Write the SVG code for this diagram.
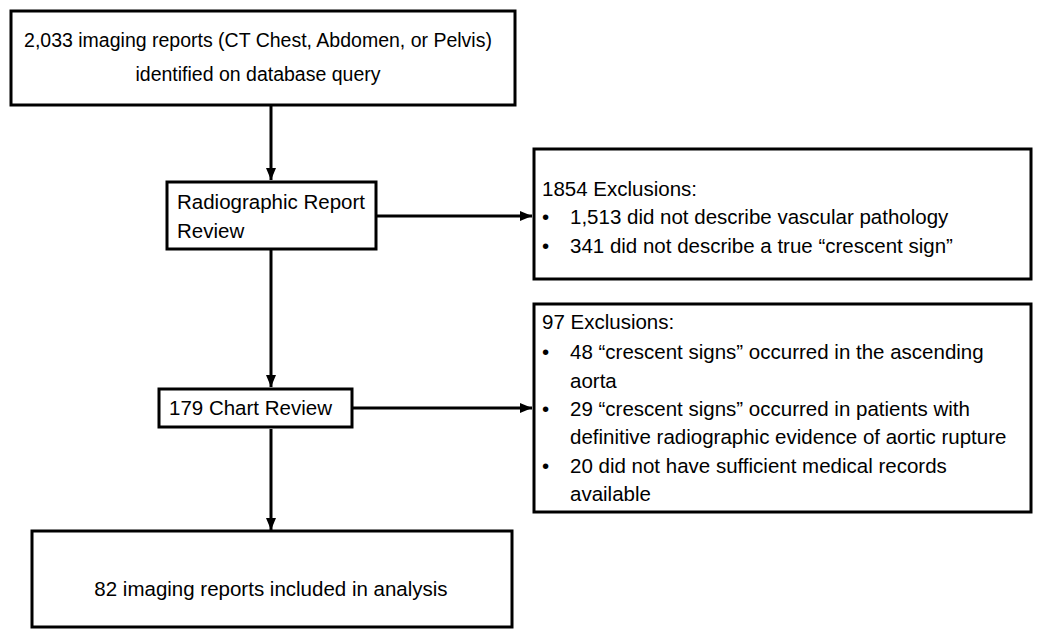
<svg xmlns="http://www.w3.org/2000/svg" width="1050" height="636" viewBox="0 0 1050 636">
<style>
.box{fill:#fff;stroke:#000;stroke-width:3}
text{font-family:"Liberation Sans",Arial,sans-serif;font-size:20.5px;fill:#000}
.c{text-anchor:middle}
.t{font-size:19.5px}
.ln{stroke:#000;stroke-width:3;fill:none}
</style>
<defs>
<marker id="ah" markerWidth="12" markerHeight="10" refX="12" refY="5" orient="auto" markerUnits="userSpaceOnUse">
<path d="M0,0 L12,5 L0,10 Z" fill="#000"/>
</marker>
</defs>
<rect width="1050" height="636" fill="#fff"/>
<g id="connectors">
<line class="ln" x1="271" y1="106" x2="271" y2="180" marker-end="url(#ah)"/>
<line class="ln" x1="271" y1="250" x2="271" y2="387" marker-end="url(#ah)"/>
<line class="ln" x1="271" y1="429" x2="271" y2="530" marker-end="url(#ah)"/>
<line class="ln" x1="376" y1="216" x2="532" y2="216" marker-end="url(#ah)"/>
<line class="ln" x1="352" y1="408" x2="532" y2="408" marker-end="url(#ah)"/>
</g>
<g id="n1">
<rect class="box" x="11" y="11" width="504" height="94"/>
<text class="c t" x="258" y="47">2,033 imaging reports (CT Chest, Abdomen, or Pelvis)</text>
<text class="c t" x="258" y="81">identified on database query</text>
</g>
<g id="n2">
<rect class="box" x="167" y="182" width="209" height="67"/>
<text x="177" y="209">Radiographic Report</text>
<text x="177" y="238">Review</text>
</g>
<g id="n3">
<rect class="box" x="534" y="149" width="497" height="130"/>
<text x="542" y="196">1854 Exclusions:</text>
<text x="542" y="224">•</text>
<text x="570" y="224">1,513 did not describe vascular pathology</text>
<text x="542" y="253">•</text>
<text x="570" y="253">341 did not describe a true “crescent sign”</text>
</g>
<g id="n4">
<rect class="box" x="159" y="389" width="193" height="38"/>
<text x="169" y="415">179 Chart Review</text>
</g>
<g id="n5">
<rect class="box" x="534" y="304" width="497" height="208"/>
<text x="542" y="329">97 Exclusions:</text>
<text x="542" y="359">•</text>
<text x="570" y="359">48 “crescent signs” occurred in the ascending</text>
<text x="570" y="388">aorta</text>
<text x="542" y="416">•</text>
<text x="570" y="416">29 “crescent signs” occurred in patients with</text>
<text x="570" y="444">definitive radiographic evidence of aortic rupture</text>
<text x="542" y="473">•</text>
<text x="570" y="473">20 did not have sufficient medical records</text>
<text x="570" y="501">available</text>
</g>
<g id="n6">
<rect class="box" x="32" y="531" width="480" height="96"/>
<text class="c" x="271" y="596">82 imaging reports included in analysis</text>
</g>
</svg>
